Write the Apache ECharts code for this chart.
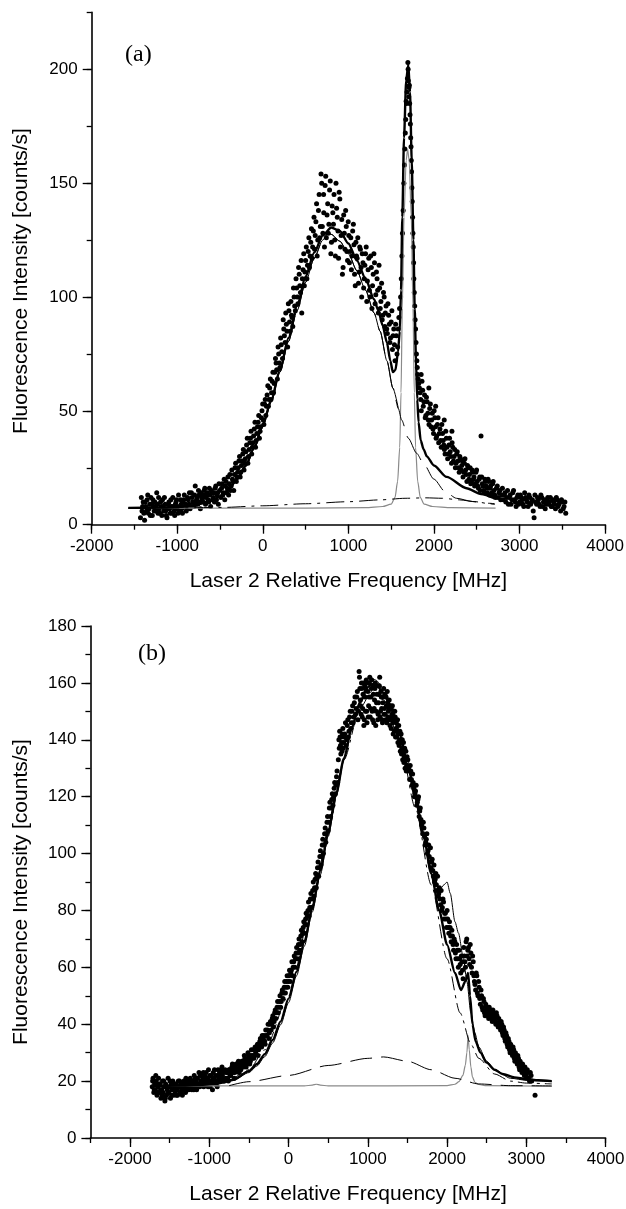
<!DOCTYPE html>
<html><head><meta charset="utf-8">
<script src="https://cdn.jsdelivr.net/npm/echarts@6/dist/echarts.min.js"></script>
<style>html,body{margin:0;padding:0;background:#fff}#c{width:626px;height:1209px}</style>
</head><body><div id="c"></div>
<script>
// ---------- Tick labels & titles ----------
const xMajorA = [-2000, -1000, 0, 1000, 2000, 3000, 4000];
const yMajorA = [0, 50, 100, 150, 200];
const xMajorB = [-2000, -1000, 0, 1000, 2000, 3000, 4000];
const yMajorB = [0, 20, 40, 60, 80, 100, 120, 140, 160, 180];
const xTitle = 'Laser 2 Relative Frequency [MHz]';
const yTitle = 'Fluorescence Intensity [counts/s]';

// ---------- Panel (a): measured points (two scans) ----------
const scanA1 = [
[-1430,3],[-1420,12],[-1405,8],[-1390,5],[-1375,10],[-1360,6],[-1345,13],[-1330,7],[-1315,4],[-1300,9],[-1285,11],[-1270,6],[-1255,8],[-1240,14],[-1225,5],[-1210,7],[-1195,10],[-1180,4],[-1165,8],[-1150,12],[-1135,6],[-1120,3],[-1105,9],[-1090,7],[-1075,11],[-1060,5],[-1045,8],[-1030,4],[-1015,10],[-1000,7],[-985,13],[-970,6],[-955,9],[-940,5],[-925,11],[-910,8],[-895,6],[-880,12],[-865,9],[-850,7],[-835,14],[-820,10],[-805,8],[-790,17],[-775,11],[-760,9],[-745,13],[-730,7],[-715,12],[-700,10],[-685,15],[-670,9],[-655,13],[-640,11],[-625,16],[-610,8],[-595,14],[-580,12],[-565,10],[-550,17],[-535,13],[-520,9],[-505,15],
[-490,12],[-475,18],[-460,14],[-445,11],[-430,19],[-415,16],[-400,13],[-385,22],[-370,17],[-355,20],[-340,15],[-325,25],[-310,19],[-295,23],[-280,28],[-265,21],[-250,26],[-235,31],[-220,24],[-205,29],[-190,35],[-175,27],[-160,33],[-145,38],[-130,31],[-115,36],[-100,42],[-85,34],[-70,40],[-55,45],[-40,38],[-25,43],[-10,50],[5,46],[20,53],
[35,48],[50,57],[65,52],[80,60],[95,55],[110,63],[125,58],[140,67],[155,71],[170,64],[185,75],[200,69],[215,79],[230,73],[245,86],[260,80],[275,88],[290,78],[305,94],[320,85],[335,92],[350,87],[365,100],[380,94],[395,104],[410,97],[425,110],[440,102],[455,93],[470,112],[485,105],[500,116],[515,108],[530,120],[545,113],[560,124],[575,117],[590,129],[605,121],[620,133],[635,118],[650,138],[665,126],[680,154],[695,131],[710,145],
[720,122],[735,153],[750,136],[765,128],[780,147],[795,119],[810,140],[825,132],[840,125],[855,150],[870,135],[885,117],[900,143],[915,127],[930,110],[945,136],[960,121],[975,131],[990,116],[1005,127],
[1020,120],[1035,112],[1050,129],[1065,123],[1080,105],[1095,118],[1110,126],[1125,111],[1140,121],[1155,100],[1170,115],[1185,108],[1200,119],[1215,98],[1230,112],[1245,103],[1260,118],[1275,95],[1290,110],[1305,115],[1320,101],[1335,108],[1350,93],[1365,104],[1380,98],[1395,90],[1410,102],[1425,87],[1440,96],[1455,84],[1470,92],[1485,80],[1500,89],[1515,77],[1530,86],[1545,72],[1560,83],[1575,78],[1590,91],
[1610,100],[1625,118],[1640,138],[1655,158],[1665,172],[1675,186],[1685,190],[1695,203],[1700,195],[1705,188],[1712,193],[1720,180],[1728,170],[1735,160],[1742,148],[1750,135],[1758,122],[1765,108],[1775,96],[1785,86],[1795,75],[1805,69],[1815,64],
[1830,60],[1845,55],[1850,66],[1860,63],[1875,52],[1890,57],[1905,48],[1920,54],[1935,46],[1940,60],[1950,51],[1965,43],[1980,49],[1995,40],[2010,47],[2020,52],[2025,38],[2040,44],[2055,36],[2070,42],[2085,34],[2100,40],[2115,35],[2120,46],[2130,31],[2145,38],[2160,29],[2175,35],[2190,32],[2205,27],[2210,41],[2220,34],[2235,30],[2250,25],[2265,31],[2280,28],[2295,23],[2310,29],[2325,26],[2340,21],[2355,27],[2370,24],[2385,19],[2400,25],[2415,22],[2430,18],[2445,24],[2460,20],[2475,17],[2490,23],[2505,19],[2520,16],[2535,21],[2550,39],[2565,18],[2580,15],[2595,20],[2610,17],[2625,14],[2640,19],[2655,16],[2670,13],[2685,18],[2700,15],[2720,12],[2740,17],[2760,14],[2780,11],[2800,16],[2820,13],[2840,10],[2860,15],[2880,12],[2900,9],[2920,14],[2940,11],[2960,8],[2980,13],[3000,10],[3020,12],[3040,9],[3060,14],[3080,11],[3100,8],[3120,12],[3140,10],[3160,6],[3180,13],[3200,9],[3220,11],[3240,8],[3260,12],[3280,10],[3300,7],[3320,11],[3340,9],[3360,12],[3380,8],[3400,10],[3420,7],[3440,11],[3460,9],[3480,6],[3500,10],[3520,8],[3540,5]
];
const scanA2 = [
[-1412,6],[-1398,10],[-1382,2],[-1368,8],[-1352,11],[-1338,5],[-1322,9],[-1308,12],[-1292,4],[-1278,8],[-1262,10],[-1248,6],[-1232,9],[-1218,12],[-1202,5],[-1188,8],[-1172,11],[-1158,6],[-1142,9],[-1128,4],[-1112,7],[-1098,10],[-1082,5],[-1068,8],[-1052,12],[-1038,6],[-1022,9],[-1008,11],[-992,5],[-978,8],[-962,11],[-948,7],[-932,10],[-918,13],[-902,9],[-888,7],[-872,11],[-858,14],[-842,8],[-828,12],[-812,10],[-798,13],[-782,9],[-768,12],[-752,15],[-738,10],[-722,14],[-708,11],[-692,13],[-678,16],[-662,12],[-648,14],[-632,10],[-618,13],[-602,15],[-588,11],[-572,14],[-558,16],[-542,11],[-528,14],[-512,18],
[-482,16],[-468,13],[-452,20],[-438,17],[-422,14],[-408,21],[-392,18],[-378,15],[-362,24],[-348,19],[-332,22],[-318,27],[-302,21],[-288,25],[-272,30],[-258,23],[-242,28],[-228,33],[-212,27],[-198,32],[-182,38],[-168,30],[-152,36],[-138,41],[-122,34],[-108,39],[-92,45],[-78,37],[-62,43],[-48,48],[-32,41],[-18,47],[-2,53],[12,44],[28,55],
[42,52],[58,61],[72,55],[88,64],[102,58],[118,67],[132,62],[148,73],[162,68],[178,78],[192,71],[208,82],[222,76],[238,90],[252,83],[268,93],[282,85],[298,97],[312,89],[328,98],[342,91],[358,104],[372,96],[388,108],[402,100],[418,113],[432,105],[448,116],[462,108],[478,119],[492,111],[508,122],[522,114],[538,126],[552,118],[568,130],[582,122],[598,135],[612,127],[628,141],[642,125],[658,145],[672,131],[688,150],[702,128],
[712,137],[728,149],[742,126],[758,141],[772,132],[788,151],[802,124],[818,137],[832,145],[848,118],[862,139],[878,129],[892,146],[908,122],[922,134],[938,113],[952,128],[968,138],[982,120],[998,133],
[1012,115],[1028,126],[1042,118],[1058,132],[1072,110],[1088,124],[1102,117],[1118,106],[1132,122],[1148,113],[1162,119],[1178,104],[1192,114],[1208,122],[1222,107],[1238,117],[1252,100],[1268,113],[1282,105],[1298,119],[1312,97],[1328,111],[1342,103],[1358,114],[1372,95],[1388,106],[1402,92],[1418,100],[1432,93],[1448,86],[1462,97],[1478,88],[1492,82],[1508,94],[1522,83],[1538,79],[1552,88],[1568,75],[1582,86],[1598,95],
[1618,108],[1632,128],[1648,150],[1660,165],[1670,178],[1680,185],[1690,196],[1698,200],[1708,192],[1716,185],[1724,176],[1732,166],[1738,155],[1746,142],[1754,128],[1762,115],[1770,102],[1780,90],[1790,80],[1800,72],[1810,66],[1822,62],
[1838,58],[1852,50],[1868,59],[1882,54],[1898,47],[1912,56],[1928,49],[1942,44],[1958,53],[1972,46],[1988,42],[2002,50],[2018,43],[2032,39],[2048,47],[2062,40],[2078,37],[2092,44],[2108,37],[2122,33],[2138,41],[2152,34],[2168,31],[2182,38],[2198,30],[2212,36],[2228,28],[2242,33],[2258,27],[2272,32],[2288,25],[2302,30],[2318,24],[2332,28],[2348,23],[2362,29],[2378,22],[2392,26],[2408,20],[2422,25],[2438,19],[2452,23],[2468,21],[2482,18],[2498,24],[2512,17],[2528,20],[2542,15],[2558,21],[2572,17],[2588,14],[2602,19],[2618,16],[2632,20],[2648,13],[2662,17],[2678,14],[2692,19],[2710,13],[2730,16],[2750,12],[2770,15],[2790,13],[2810,11],[2830,14],[2850,12],[2870,9],[2890,13],[2910,11],[2930,15],[2950,10],[2970,12],[2990,9],[3010,13],[3030,11],[3050,8],[3070,12],[3090,10],[3110,13],[3130,9],[3150,11],[3170,3],[3190,10],[3210,12],[3230,9],[3250,13],[3270,8],[3290,11],[3310,9],[3330,12],[3350,10],[3370,8],[3390,11],[3410,9],[3430,12],[3450,8],[3470,10],[3490,11],[3510,7],[3530,10]
];

// ---------- Panel (a): fit curves ----------
const totalFitA = [[-1571,7.4],[-1200,7.5],[-1000,7.8],[-800,8.6],[-600,10.5],[-500,12.5],[-400,15.5],[-300,20],[-200,26],[-100,34],[0,44],[100,55],[200,68],[300,82],[400,96],[500,109],[600,119.5],[700,127],[800,130.5],[900,129],[1000,123.5],[1100,116],[1200,108],[1300,99],[1350,94],[1400,87.5],[1450,80],[1490,72],[1520,67],[1550,68],[1580,76],[1600,85],[1615,103],[1630,135],[1650,170],[1675,195],[1700,202],[1720,190],[1740,160],[1760,125],[1775,95],[1790,72],[1805,55],[1820,45],[1845,37],[1880,33],[1916,30],[2000,26],[2147,21],[2380,16],[2550,13.5],[2710,11.5]];
const thinFitA = [[-1571,7.3],[-1200,7.4],[-1000,7.6],[-800,8.4],[-600,10.2],[-500,12.2],[-400,15.2],[-300,19.6],[-200,25.5],[-100,33.3],[0,43],[100,54],[200,67],[300,80.5],[400,94],[500,106.5],[600,117],[700,125],[760,128],[800,127.5],[900,124.5],[1000,119],[1100,111.5],[1200,103],[1300,93],[1370,85],[1450,72],[1520,60],[1584,51]];
const gaussDashA = [[-1571,7.3],[-1200,7.4],[-1000,7.6],[-800,8.4],[-600,10.2],[-500,12.2],[-400,15.2],[-300,19.6],[-200,25.5],[-100,33.3],[0,43],[100,54],[200,67],[300,80.5],[400,94],[500,106.5],[600,117],[700,125],[760,128],[800,127.5],[900,124.5],[1000,119],[1100,111.5],[1200,103],[1300,93],[1370,85],[1450,72],[1520,60],[1584,51],[1622,46],[1700,38],[1797,31.4],[1876,27],[2000,20],[2130,14.5],[2263,11.6],[2450,10.2],[2652,9.4],[2710,9.2]];
const bgDashDotA = [[-1571,7.3],[-1000,7.4],[-460,7.6],[0,8.3],[500,9.2],[1000,10.1],[1370,10.9],[1662,11.6],[1900,11.8],[2100,11.6],[2300,10.9],[2500,10],[2650,9.2],[2710,8.9]];
const narrowGrayA = [[-1571,7.3],[500,7.3],[1200,7.5],[1400,8],[1500,9],[1545,12],[1575,19],[1600,34],[1615,58],[1630,95],[1650,135],[1675,160],[1692,165],[1710,160],[1735,135],[1755,95],[1770,58],[1785,34],[1810,19],[1840,12],[1885,9],[1984,8],[2200,7.5],[2720,7.3]];

// ---------- Panel (b): measured points (two scans) ----------
const scanB1 = [
[-1720,18],[-1710,21],[-1700,16],[-1690,19],[-1680,17],[-1670,20],[-1660,15],[-1650,18],[-1640,21],[-1630,16],[-1620,19],[-1610,14],[-1600,17],[-1590,20],[-1580,16],[-1570,18],[-1560,13],[-1550,19],[-1540,15],[-1530,17],[-1520,21],[-1510,16],[-1500,18],[-1490,14],[-1480,19],[-1470,17],[-1460,20],[-1450,15],[-1440,18],[-1430,16],[-1420,19],[-1410,17],[-1400,15],[-1390,20],[-1380,18],[-1370,16],[-1360,19],[-1350,17],[-1340,15],[-1330,18],[-1320,20],[-1310,17],[-1300,16],[-1290,19],[-1280,18],[-1270,20],[-1260,17],[-1250,19],[-1240,21],[-1230,18],[-1220,17],[-1210,20],[-1200,19],[-1190,22],[-1180,18],[-1170,20],[-1160,17],[-1150,21],[-1140,19],[-1130,23],[-1120,18],[-1110,20],[-1100,22],[-1090,19],[-1080,21],[-1070,18],[-1060,22],[-1050,20],[-1040,23],[-1030,19],[-1020,21],[-1010,24],[-1000,20],[-990,18],[-980,22],[-970,20],[-960,17],[-950,23],[-940,21],[-930,19],[-920,22],[-910,20],[-900,18],[-890,24],[-880,21],[-870,23],[-860,20],[-850,22],[-840,25],[-830,21],[-820,23],[-810,20],[-800,24],
[-790,21],[-775,23],[-760,20],[-745,24],[-730,22],[-715,25],[-700,23],[-685,21],[-670,25],[-655,24],[-640,26],[-625,23],[-610,26],[-595,25],[-580,27],[-565,25],[-550,28],[-535,25],[-520,27],[-505,29],[-490,26],[-475,29],[-460,28],[-445,31],[-430,29],[-415,30],[-400,32],[-385,29],[-370,32],[-355,35],[-340,32],[-325,34],[-310,36],[-295,33],[-280,36],[-265,38],[-250,35],[-235,40],[-220,38],[-205,42],[-190,39],[-175,44],[-160,42],[-145,46],[-130,44],[-115,48],[-100,46],[-85,51],[-70,49],[-55,53],[-40,51],[-25,55],[-10,53],[5,57],[20,55],
[35,59],[50,57],[65,62],[80,60],[95,65],[110,63],[125,68],[140,66],[155,71],[170,69],[185,74],[200,72],[215,77],[230,75],[245,80],[260,78],[275,84],[290,81],[305,87],[320,85],[335,91],[350,88],[365,95],[380,92],[395,99],[410,96],[425,103],[440,100],[455,107],[470,104],[485,111],[500,108],[515,116],[530,113],[545,119],[560,117],[575,123],[590,121],[605,127],[620,125],[635,140],[645,143],[655,138],[665,141],[675,136],[685,144],[695,139],
[710,142],[725,138],[740,145],[755,141],[770,148],[785,144],[800,150],[815,146],[830,153],[845,149],[860,155],[875,147],[890,164],[900,158],[910,152],[920,160],[930,148],[940,156],[950,145],[960,159],[970,150],[980,161],[990,146],[1000,157],[1010,152],[1020,160],[1030,148],[1040,155],[1050,161],[1060,147],[1070,156],[1080,151],[1090,158],[1100,145],[1110,153],[1120,159],[1130,149],[1140,156],[1150,162],[1160,150],[1170,155],[1180,147],[1190,153],[1200,158],[1210,151],[1220,149],[1230,155],[1240,146],[1250,153],[1260,150],[1270,154],[1280,145],[1290,151],[1300,148],[1310,152],[1320,142],[1330,147],[1340,150],[1350,141],[1360,146],[1370,143],[1380,139],[1390,145],[1400,140],[1410,136],[1420,142],[1430,137],[1440,133],[1450,139],[1460,134],[1470,130],[1480,136],[1490,131],
[1505,133],[1520,129],[1535,131],[1550,126],[1565,128],[1580,123],[1595,121],[1610,124],[1625,118],[1640,120],[1655,115],[1670,112],[1685,109],[1700,111],[1715,106],[1730,104],[1745,107],[1760,101],[1775,99],[1790,102],[1805,97],[1820,94],[1835,96],[1850,91],[1865,89],[1880,92],[1895,86],[1910,84],[1925,87],[1940,81],[1955,83],[1970,79],[1985,77],[2000,80],[2015,74],[2030,76],[2045,71],[2060,73],[2075,68],[2090,70],[2105,65],[2120,68],[2135,63],[2150,66],[2165,61],[2180,64],[2195,59],[2210,67],[2225,62],[2240,69],[2255,64],[2270,67],[2285,61],[2300,65],[2315,58],[2330,62],
[2345,55],[2360,52],[2375,57],[2390,50],[2405,53],[2420,47],[2435,50],[2450,45],[2465,48],[2480,43],[2495,46],[2510,44],[2525,42],[2540,45],[2555,43],[2570,41],[2585,44],[2600,42],[2615,40],[2630,43],[2645,39],[2660,41],[2675,38],[2690,40],[2705,36],[2720,38],[2735,34],[2750,36],[2765,32],[2780,34],[2795,30],[2810,32],[2825,29],[2840,31],[2855,27],[2870,29],[2885,26],[2900,28],[2915,24],[2930,26],[2945,23],[2960,25],[2975,22],[2990,24],[3005,21],[3020,23],[3040,20],[3060,22],[3110,15]
];
const scanB2 = [
[-1715,20],[-1695,17],[-1675,22],[-1655,16],[-1635,19],[-1615,17],[-1595,15],[-1575,20],[-1555,14],[-1535,18],[-1515,16],[-1495,20],[-1475,15],[-1455,17],[-1435,19],[-1415,15],[-1395,18],[-1375,20],[-1355,16],[-1335,19],[-1315,18],[-1295,21],[-1275,17],[-1255,18],[-1235,20],[-1215,19],[-1195,17],[-1175,21],[-1155,19],[-1135,18],[-1115,22],[-1095,20],[-1075,23],[-1055,19],[-1035,21],[-1015,18],[-995,22],[-975,19],[-955,21],[-935,24],[-915,19],[-895,22],[-875,20],[-855,24],[-835,22],[-815,20],
[-782,23],[-768,21],[-752,24],[-738,22],[-722,23],[-708,26],[-692,24],[-678,23],[-662,26],[-648,24],[-632,27],[-618,25],[-602,24],[-588,27],[-572,26],[-558,29],[-542,27],[-528,26],[-512,30],[-498,28],[-482,27],[-468,31],[-452,29],[-438,28],[-422,32],[-408,31],[-392,33],[-378,31],[-362,34],[-348,33],[-332,36],[-318,35],[-302,34],[-288,38],[-272,36],[-258,40],[-242,37],[-228,41],[-212,40],[-198,43],[-182,41],[-168,45],[-152,44],[-138,48],[-122,46],[-108,50],[-92,48],[-78,52],[-62,51],[-48,55],[-32,53],[-18,57],[-2,55],[12,59],[28,58],
[42,62],[58,60],[72,64],[88,63],[102,67],[118,65],[132,70],[148,68],[162,73],[178,72],[192,76],[208,75],[222,79],[238,78],[252,83],[268,81],[282,86],[298,84],[312,90],[328,88],[342,93],[358,92],[372,97],[388,95],[402,101],[418,99],[432,105],[448,103],[462,109],[478,107],[492,113],[508,111],[522,118],[538,116],[552,121],[568,120],[582,125],[598,124],[612,129],[628,133],[640,137],[650,141],[660,135],[670,139],[680,142],[690,137],[700,141],
[718,146],[732,140],[748,147],[762,143],[778,150],[792,146],[808,152],[822,148],[838,155],[852,151],[868,157],[882,150],[895,162],[905,154],[915,149],[925,158],[935,151],[945,160],[955,147],[965,155],[975,158],[985,150],[995,160],[1005,148],[1015,155],[1025,162],[1035,151],[1045,158],[1055,150],[1065,159],[1075,146],[1085,154],[1095,160],[1105,150],[1115,156],[1125,147],[1135,153],[1145,159],[1155,148],[1165,157],[1175,151],[1185,146],[1195,155],[1205,149],[1215,156],[1225,147],[1235,152],[1245,157],[1255,148],[1265,151],[1275,147],[1285,152],[1295,144],[1305,149],[1315,146],[1325,150],[1335,143],[1345,148],[1355,144],[1365,141],[1375,147],[1385,142],[1395,138],[1405,143],[1415,139],[1425,135],[1435,140],[1445,136],[1455,132],[1465,137],[1475,133],[1485,129],[1495,134],
[1512,130],[1528,126],[1542,129],[1558,124],[1572,125],[1588,120],[1602,122],[1618,117],[1632,119],[1648,113],[1662,116],[1678,110],[1692,107],[1708,109],[1722,103],[1738,105],[1752,100],[1768,103],[1782,97],[1798,95],[1812,98],[1828,92],[1842,90],[1858,93],[1872,87],[1888,85],[1902,88],[1918,82],[1932,80],[1948,84],[1962,77],[1978,79],[1992,74],[2008,77],[2022,72],[2038,74],[2052,69],[2068,71],[2082,66],[2098,69],[2112,63],[2128,66],[2142,60],[2158,63],[2172,58],[2188,62],[2202,56],[2218,64],[2232,60],[2248,70],[2262,66],[2278,63],[2292,68],[2308,60],[2322,64],[2338,57],
[2352,54],[2368,58],[2382,51],[2398,55],[2412,49],[2428,52],[2442,46],[2458,49],[2472,44],[2488,47],[2502,45],[2518,43],[2532,46],[2548,44],[2562,42],[2578,45],[2592,43],[2608,41],[2622,44],[2638,40],[2652,42],[2668,39],[2682,41],[2698,37],[2712,39],[2728,35],[2742,37],[2758,33],[2772,35],[2788,31],[2802,33],[2818,30],[2832,32],[2848,28],[2862,30],[2878,27],[2892,29],[2908,25],[2922,27],[2938,24],[2952,26],[2968,23],[2982,25],[2998,22],[3012,24],[3030,21],[3050,23],[3068,20]
];

// ---------- Panel (b): fit curves ----------
const totalFitB = [[-1711,18.3],[-1400,18.4],[-1100,18.7],[-900,19.2],[-700,20.5],[-500,23.5],[-400,26],[-300,29.5],[-200,34.5],[-100,41],[0,49],[100,58.5],[200,69],[300,81],[400,94],[500,107.5],[600,121],[700,133.5],[800,144.5],[900,153],[1000,158.5],[1050,159.5],[1100,159.5],[1200,156.5],[1300,150.5],[1400,142],[1500,131.5],[1600,119.5],[1700,106.5],[1800,93],[1900,80],[2000,68],[2100,58],[2175,52],[2230,55],[2265,58],[2290,50],[2320,40],[2360,34],[2420,30],[2500,26.5],[2600,24],[2700,22.5],[2850,21.3],[3000,20.7],[3150,20.3],[3321,20]];
const thinFitB = [[-1711,18.3],[-1400,18.4],[-1100,18.6],[-900,19],[-700,20.2],[-500,23],[-400,25.3],[-300,28.6],[-200,33.4],[-100,39.8],[0,47.6],[100,57],[200,67.5],[300,79.5],[400,92.5],[500,106],[600,120],[700,133],[800,144.5],[900,153.5],[1000,160],[1030,161.5],[1100,161],[1200,158],[1300,152],[1400,143.5],[1500,133],[1600,121],[1700,108],[1800,95],[1900,87],[1960,89],[2000,90],[2040,86],[2100,76],[2144,72],[2207,63],[2250,55],[2300,44],[2350,37],[2400,32],[2500,27],[2600,24],[2800,21],[3000,20.3],[3321,19.8]];
const gaussDashDotB = [[-730,20],[-500,24],[-300,31],[0,50],[300,82],[500,108],[700,133],[900,151],[1050,157],[1200,154],[1400,140],[1600,116],[1800,89],[2000,63],[2164,44],[2300,33],[2400,28],[2600,22.5],[2800,20],[3000,19.3],[3321,19]];
const broadDashB = [[-750,18.4],[-500,19.8],[0,22],[500,25.5],[1000,28],[1200,28.5],[1500,27],[1800,24],[2100,21],[2400,19],[2800,18.4],[3321,18.3]];
const narrowGrayB = [[-1711,18.3],[200,18.3],[300,18.6],[350,18.9],[400,18.6],[500,18.3],[2000,18.4],[2100,18.9],[2150,19.8],[2200,22],[2230,25.5],[2250,30],[2265,36],[2280,31],[2300,25],[2320,21.5],[2350,19.6],[2400,18.8],[2500,18.4],[3321,18.2]];

// ---------- Chart ----------
const FONT = '"Liberation Sans", Arial, Helvetica, sans-serif';
const chart = echarts.init(document.getElementById('c'), null, {renderer: 'canvas', width: 626, height: 1209});

function minorAxis(grid, min, max, step, tickLen) {
  return {gridIndex: grid, type: 'value', min: min, max: max, interval: step,
    axisLine: {show: true, onZero: false, lineStyle: {color: '#000', width: 1.6}},
    axisTick: {show: true, inside: false, length: tickLen, lineStyle: {color: '#000', width: 1.3}},
    axisLabel: {show: false}, splitLine: {show: false}, minorTick: {show: false}};
}
function majorAxis(grid, min, max, ticks, isX) {
  return {gridIndex: grid, type: 'value', min: min, max: max,
    position: isX ? 'bottom' : 'left',
    axisLine: {show: false, onZero: false},
    axisTick: {show: true, inside: false, length: 9, customValues: ticks, lineStyle: {color: '#000', width: 1.3}},
    axisLabel: {show: true, customValues: ticks, color: '#000', fontFamily: FONT, fontSize: 17,
      margin: isX ? 13 : 14, formatter: function (v) { return String(v); }},
    splitLine: {show: false},
    name: isX ? xTitle : '', nameLocation: 'middle', nameGap: 46,
    nameTextStyle: {color: '#000', fontFamily: FONT, fontSize: 21}};
}
function curve(data, xi, yi, style, z) {
  return {type: 'line', data: data, xAxisIndex: xi, yAxisIndex: yi, showSymbol: false, symbol: 'none',
    smooth: 0.25, smoothMonotone: 'x', lineStyle: style, z: z, silent: true, animation: false};
}
function dots(data, xi, yi) {
  return {type: 'scatter', data: data, xAxisIndex: xi, yAxisIndex: yi, symbol: 'circle', symbolSize: 5,
    itemStyle: {color: '#000', opacity: 1}, z: 2, silent: true, animation: false};
}

const option = {
  animation: false,
  backgroundColor: '#fff',
  grid: [
    {left: 91.7, right: 20.9, top: 12.4, bottom: 684.3, outerBoundsMode: 'none', containLabel: false},
    {left: 90.4, right: 20.4, top: 626, bottom: 71, outerBoundsMode: 'none', containLabel: false}
  ],
  xAxis: [
    minorAxis(0, -2000, 4000, 500, 5),
    majorAxis(0, -2000, 4000, xMajorA, true),
    minorAxis(1, -2500, 4000, 500, 5),
    majorAxis(1, -2500, 4000, xMajorB, true)
  ],
  yAxis: [
    minorAxis(0, 0, 225, 25, 5),
    majorAxis(0, 0, 225, yMajorA, false),
    minorAxis(1, 0, 180, 10, 5),
    majorAxis(1, 0, 180, yMajorB, false)
  ],
  graphic: [
    {type: 'text', left: 125, top: 43, style: {text: '(a)', font: '24px "Liberation Serif", "Times New Roman", serif', fill: '#000'}},
    {type: 'text', left: 138, top: 642, style: {text: '(b)', font: '24px "Liberation Serif", "Times New Roman", serif', fill: '#000'}},
    {type: 'text', x: 21, y: 281, rotation: Math.PI / 2,
      style: {text: yTitle, font: '21px ' + FONT, fill: '#000', align: 'center', verticalAlign: 'middle'}},
    {type: 'text', x: 21, y: 892, rotation: Math.PI / 2,
      style: {text: yTitle, font: '21px ' + FONT, fill: '#000', align: 'center', verticalAlign: 'middle'}}
  ],
  series: [
    dots(scanA1, 0, 0),
    dots(scanA2, 0, 0),
    curve(narrowGrayA, 0, 0, {color: '#8a8a8a', width: 1.2}, 3),
    curve(bgDashDotA, 0, 0, {color: '#000', width: 1, type: [18, 6, 3, 6]}, 4),
    curve(gaussDashA, 0, 0, {color: '#000', width: 1, type: [28, 10]}, 4),
    curve(thinFitA, 0, 0, {color: '#000', width: 1}, 5),
    curve(totalFitA, 0, 0, {color: '#000', width: 2.4}, 6),

    dots(scanB1, 2, 2),
    dots(scanB2, 2, 2),
    curve(narrowGrayB, 2, 2, {color: '#8a8a8a', width: 1.2}, 3),
    curve(broadDashB, 2, 2, {color: '#000', width: 1, type: [22, 9]}, 4),
    curve(gaussDashDotB, 2, 2, {color: '#000', width: 1, type: [14, 5, 3, 5]}, 4),
    curve(thinFitB, 2, 2, {color: '#000', width: 1}, 5),
    curve(totalFitB, 2, 2, {color: '#000', width: 2.4}, 6)
  ]
};
chart.setOption(option);
</script>
</body></html>
